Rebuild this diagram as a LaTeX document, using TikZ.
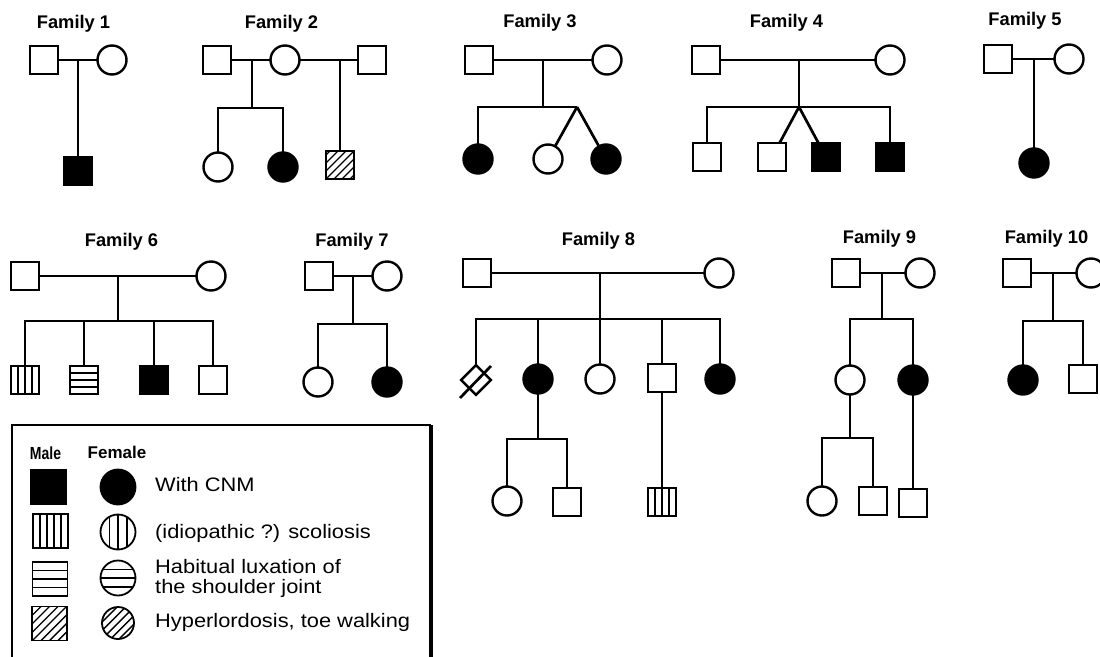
\documentclass[tikz,border=0pt]{standalone}
\usepackage{fontspec}
\setmainfont{Liberation Sans}
\newfontfamily\legfont[FakeStretch=1.12]{Liberation Sans}
\newfontfamily\condfont[FakeStretch=0.8]{Liberation Sans}
\usetikzlibrary{calc}
\tikzset{
  ln/.style={line width=2.7pt},
  pers/.style={draw, line width=2.4pt, inner sep=0pt, outer sep=0pt},
  male/.style={pers, rectangle, minimum size=28.5pt},
  female/.style={pers, circle, minimum size=29pt},
  lmale/.style={pers, rectangle, line width=1.8pt, minimum width=35pt, minimum height=34pt},
  lfemale/.style={pers, circle, line width=1.8pt, minimum size=35pt},
  aff/.style={fill=black},
  vst/.style={path picture={\foreach \k in {1,...,#1}{\draw[line width=1.5pt]
      ($(path picture bounding box.north west)!{\k/(#1+1)}!(path picture bounding box.north east)$) --
      ($(path picture bounding box.south west)!{\k/(#1+1)}!(path picture bounding box.south east)$);}}},
  vst/.default=3,
  hst/.style={path picture={\foreach \k in {1,...,#1}{\draw[line width=1.5pt]
      ($(path picture bounding box.north west)!{\k/(#1+1)}!(path picture bounding box.south west)$) --
      ($(path picture bounding box.north east)!{\k/(#1+1)}!(path picture bounding box.south east)$);}}},
  hst/.default=3,
  dst/.style={path picture={\foreach \k in {-4,...,4}{\draw[line width=1.4pt]
      ($(path picture bounding box.center)+(\k*#1-25,25)$) --
      ($(path picture bounding box.center)+(\k*#1+25,-25)$);}}},
  dst/.default=8.5,
  tit/.style={font=\fontsize{18.3}{20}\selectfont\bfseries, anchor=base, inner sep=0pt},
  leg/.style={font=\legfont\fontsize{19.5}{20}\selectfont, anchor=base west, inner sep=0pt, align=left},
  mf/.style={font=\fontsize{17}{18}\selectfont\bfseries, anchor=base, inner sep=0pt},
  mfc/.style={font=\condfont\fontsize{17.5}{18}\selectfont\bfseries, anchor=base, inner sep=0pt},
  legbox/.style={line width=1.5pt},
  legedge/.style={line width=4pt}
}
\begin{document}
\begin{tikzpicture}[x=1pt,y=-1pt]
\useasboundingbox (0,0) rectangle (1100,656);

% ---------- Family 1
\node[tit] (t1) at (73.5,28) {Family 1};
\node[male] (f1a) at (44,60) {};
\node[female] (f1b) at (112,60) {};
\coordinate (f1m) at (78,60);
\node[male,aff] (f1c) at (78,171) {};
\draw[ln] (f1a) -- (f1b);
\draw[ln] (f1m) -- (f1c);

% ---------- Family 2
\node[tit] (t2) at (281.5,28) {Family 2};
\node[male] (f2a) at (217,60) {};
\node[female] (f2b) at (285,60) {};
\node[male] (f2c) at (372,60) {};
\coordinate (f2m1) at (252,60);
\coordinate (f2s1) at (252,108);
\coordinate (f2m2) at (340,60);
\node[female] (f2d) at (218,167) {};
\node[female,aff] (f2e) at (283,167) {};
\node[male,dst=8] (f2f) at (340,165) {};
\draw[ln] (f2a) -- (f2b);
\draw[ln] (f2b) -- (f2c);
\draw[ln] (f2m1) -- (f2s1);
\draw[ln] (f2d) |- (f2s1) -| (f2e);
\draw[ln] (f2m2) -- (f2f);

% ---------- Family 3
\node[tit] (t3) at (540,27) {Family 3};
\node[male] (f3a) at (479,60) {};
\node[female] (f3b) at (607,60) {};
\coordinate (f3m) at (543,60);
\coordinate (f3s) at (543,107);
\coordinate (f3t) at (577,107);
\node[female,aff] (f3c) at (478,159) {};
\node[female] (f3d) at (548,159) {};
\node[female,aff] (f3e) at (606,159) {};
\draw[ln] (f3a) -- (f3b);
\draw[ln] (f3m) -- (f3s);
\draw[ln] (f3c) |- (f3t);
\draw[ln] (f3t) -- (f3d);
\draw[ln] (f3t) -- (f3e);

% ---------- Family 4
\node[tit] (t4) at (786.5,27) {Family 4};
\node[male] (f4a) at (706,60) {};
\node[female] (f4b) at (890,60) {};
\coordinate (f4m) at (799,60);
\coordinate (f4t) at (799,107);
\node[male] (f4c) at (707,157) {};
\node[male] (f4d) at (772,157) {};
\node[male,aff] (f4e) at (826,157) {};
\node[male,aff] (f4f) at (890,157) {};
\draw[ln] (f4a) -- (f4b);
\draw[ln] (f4m) -- (f4t);
\draw[ln] (f4c) |- (f4t) -| (f4f);
\draw[ln] (f4t) -- (f4d);
\draw[ln] (f4t) -- (f4e);

% ---------- Family 5
\node[tit] (t5) at (1025,25) {Family 5};
\node[male] (f5a) at (998,59) {};
\node[female] (f5b) at (1069,59) {};
\coordinate (f5m) at (1034,59);
\node[female,aff] (f5c) at (1034,163) {};
\draw[ln] (f5a) -- (f5b);
\draw[ln] (f5m) -- (f5c);

% ---------- Family 6
\node[tit] (t6) at (121.5,246) {Family 6};
\node[male] (f6a) at (25,276) {};
\node[female] (f6b) at (211,276) {};
\coordinate (f6m) at (118,276);
\coordinate (f6s) at (118,321);
\node[male,vst] (f6c) at (25,380) {};
\node[male,hst] (f6d) at (84,380) {};
\node[male,aff] (f6e) at (154,380) {};
\node[male] (f6f) at (213,380) {};
\draw[ln] (f6a) -- (f6b);
\draw[ln] (f6m) -- (f6s);
\draw[ln] (f6c) |- (f6s) -| (f6f);
\draw[ln] (f6d) -- (f6d |- f6s);
\draw[ln] (f6e) -- (f6e |- f6s);

% ---------- Family 7
\node[tit] (t7) at (352,246) {Family 7};
\node[male] (f7a) at (319,276) {};
\node[female] (f7b) at (387,276) {};
\coordinate (f7m) at (353,276);
\coordinate (f7s) at (353,324);
\node[female] (f7c) at (318,382) {};
\node[female,aff] (f7d) at (387,382) {};
\draw[ln] (f7a) -- (f7b);
\draw[ln] (f7m) -- (f7s);
\draw[ln] (f7c) |- (f7s) -| (f7d);

% ---------- Family 8
\node[tit] (t8) at (598.5,245) {Family 8};
\node[male] (f8a) at (477,273) {};
\node[female] (f8b) at (719,273) {};
\coordinate (f8m) at (600,273);
\coordinate (f8s) at (600,319);
\node[pers, rectangle, rotate=45, minimum size=21pt] (f8c) at (476,380) {};
\node[female,aff] (f8d) at (538,379) {};
\node[female] (f8e) at (600,379) {};
\node[male] (f8f) at (662,378) {};
\node[female,aff] (f8g) at (720,379) {};
\coordinate (f8x1) at (460,398);
\coordinate (f8x2) at (491,366);
\draw[ln] (f8x1) -- (f8x2);
\draw[ln] (f8a) -- (f8b);
\draw[ln] (f8m) -- (f8s);
\draw[ln] (f8c) |- (f8s) -| (f8g);
\draw[ln] (f8d) -- (f8d |- f8s);
\draw[ln] (f8e) -- (f8s);
\draw[ln] (f8f) -- (f8f |- f8s);
\coordinate (f8s2) at (538,439);
\node[female] (f8h) at (507,501) {};
\node[male] (f8i) at (567,502) {};
\node[male,vst] (f8j) at (662,502) {};
\draw[ln] (f8d) -- (f8s2);
\draw[ln] (f8h) |- (f8s2) -| (f8i);
\draw[ln] (f8f) -- (f8j);

% ---------- Family 9
\node[tit] (t9) at (879.5,243) {Family 9};
\node[male] (f9a) at (846,273) {};
\node[female] (f9b) at (920,273) {};
\coordinate (f9m) at (882,273);
\coordinate (f9s) at (882,319);
\node[female] (f9c) at (850,380) {};
\node[female,aff] (f9d) at (913,380) {};
\draw[ln] (f9a) -- (f9b);
\draw[ln] (f9m) -- (f9s);
\draw[ln] (f9c) |- (f9s) -| (f9d);
\coordinate (f9s2) at (850,438);
\node[female] (f9e) at (822,501) {};
\node[male] (f9f) at (873,501) {};
\node[male] (f9g) at (913,503) {};
\draw[ln] (f9c) -- (f9s2);
\draw[ln] (f9e) |- (f9s2) -| (f9f);
\draw[ln] (f9d) -- (f9g);

% ---------- Family 10
\node[tit] (t10) at (1046.5,243) {Family 10};
\node[male] (f10a) at (1017,273) {};
\node[female] (f10b) at (1091,273) {};
\coordinate (f10m) at (1053,273);
\coordinate (f10s) at (1053,321);
\node[female,aff] (f10c) at (1023,380) {};
\node[male] (f10d) at (1083,379) {};
\draw[ln] (f10a) -- (f10b);
\draw[ln] (f10m) -- (f10s);
\draw[ln] (f10c) |- (f10s) -| (f10d);

% ---------- Legend
\coordinate (lb1) at (12,660);
\coordinate (lb2) at (12,425);
\coordinate (lb3) at (431,425);
\coordinate (lb4) at (431,660);
\draw[legbox] (lb1) -- (lb2) -- (lb3);
\draw[legedge] (lb3) -- (lb4);
\node[mfc] (lmale) at (45.5,459) {Male};
\node[mf] (lfem) at (117,458) {Female};
\node[lmale,aff] (l1a) at (48.5,487) {};
\node[lfemale,aff] (l1b) at (118,487) {};
\node[leg] (l1t) at (155,491) {With CNM};
\node[lmale,vst=4] (l2a) at (50.5,531) {};
\node[lfemale,vst=3] (l2b) at (118,532) {};
\node[leg] (l2t) at (155,538) {(idiopathic ?) scoliosis};
\node[lmale,hst=3] (l3a) at (50,579) {};
\node[lfemale,hst=3] (l3b) at (118,578) {};
\node[leg] (l3t) at (155,573) {Habitual luxation of};
\node[leg] (l3u) at (155,593) {the shoulder joint};
\node[lmale,dst=8.5] (l4a) at (49.5,623.5) {};
\node[lfemale,dst=8.5,minimum size=32pt] (l4b) at (118,623) {};
\node[leg] (l4t) at (155,627) {Hyperlordosis, toe walking};
\end{tikzpicture}
\end{document}
